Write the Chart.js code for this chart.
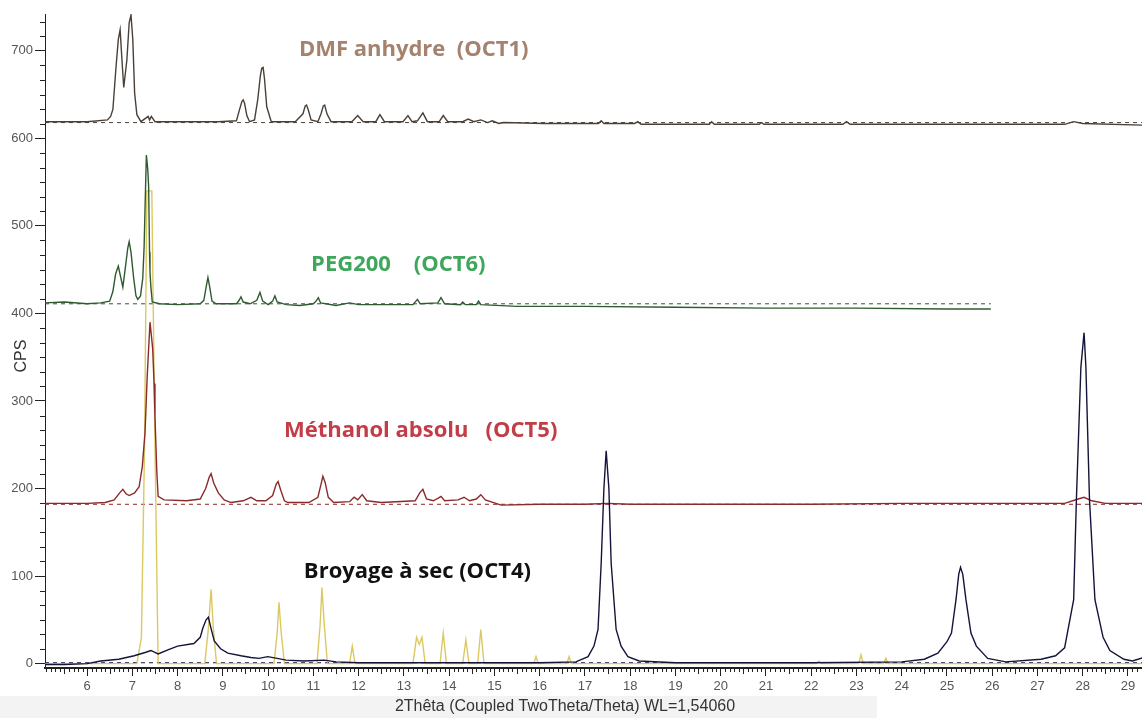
<!DOCTYPE html>
<html>
<head>
<meta charset="utf-8">
<script src="https://cdn.jsdelivr.net/npm/chart.js@4.4.1/dist/chart.umd.min.js"></script>
<style>
  html, body { margin: 0; padding: 0; background: #fff; }
  #wrap { width: 1142px; height: 718px; }
</style>
</head>
<body>
<div id="wrap"><canvas id="xrd" width="1142" height="718"></canvas></div>
<script>
// tick labels
const xTickLabels = [6, 7, 8, 9, 10, 11, 12, 13, 14, 15, 16, 17, 18, 19, 20, 21, 22, 23, 24, 25, 26, 27, 28, 29];
const yTickLabels = [0, 100, 200, 300, 400, 500, 600, 700];

// DMF anhydre (OCT1)
const dmfTheta = [5.07, 6.0, 6.45, 6.52, 6.57, 6.64, 6.69, 6.73, 6.77, 6.81, 6.88, 6.93, 6.97, 7.01, 7.05, 7.1, 7.19, 7.35, 7.38, 7.42, 7.5, 8.9,
  9.3, 9.37, 9.42, 9.45, 9.48, 9.53, 9.59, 9.7, 9.77, 9.83, 9.86, 9.89, 9.92, 9.97, 10.07, 10.6, 10.77, 10.82, 10.85, 10.89, 10.95, 11.1, 11.17,
  11.22, 11.25, 11.3, 11.39, 11.85, 11.98, 12.1, 12.38, 12.47, 12.57, 12.98, 13.09, 13.18, 13.3, 13.42, 13.52, 13.78, 13.87, 13.97, 14.3,
  14.42, 14.55, 14.7, 14.85, 14.95, 15.1, 15.2, 16.1, 17.3, 17.36, 17.42, 18.1, 18.17, 18.24, 19.75, 19.8, 19.86, 20.85, 20.9, 20.96,
  22.7, 22.78, 22.86, 27.6, 27.8, 28.0, 29.35];
const dmfCps = [619, 619, 621, 625, 633, 682, 713, 724, 690, 658, 690, 732, 741, 713, 652, 627, 619, 625, 621, 625, 619, 619,
  620, 633, 642, 644, 640, 626, 619, 621, 644, 672, 680, 681, 668, 636, 619, 619, 628, 637, 638, 632, 621, 619, 628,
  637, 638, 628, 619, 619, 626, 619, 619, 627, 619, 619, 626, 619, 620, 629, 619, 619, 626, 619, 619,
  622, 619, 621, 618, 620, 617, 618, 617, 617, 620, 617, 617, 619, 616, 616, 619, 616, 616, 618, 616,
  616, 619, 616, 616, 619, 617, 615];

// PEG200 (OCT6)
const pegTheta = [5.07, 5.5, 6.0, 6.3, 6.5, 6.57, 6.63, 6.69, 6.74, 6.79, 6.84, 6.9, 6.93, 6.97, 7.03, 7.08, 7.12, 7.18, 7.23, 7.26, 7.29,
  7.31, 7.34, 7.36, 7.38, 7.39, 7.41, 7.44, 7.6, 8.0, 8.5, 8.58, 8.63, 8.67, 8.71, 8.76, 8.85, 9.3, 9.36, 9.4, 9.45, 9.6, 9.75, 9.82, 9.88,
  10.0, 10.1, 10.15, 10.2, 10.4, 10.7, 11.0, 11.06, 11.11, 11.16, 11.5, 11.8, 12.0, 13.2, 13.3, 13.36, 13.75, 13.82, 13.9, 14.25, 14.3,
  14.36, 14.6, 14.65, 14.7, 15.5, 17.0, 19.0, 21.0, 23.0, 25.0, 25.97];
const pegCps = [412, 413, 411, 412, 414, 425, 445, 454, 442, 430, 450, 475, 482, 470, 440, 420, 416, 420, 440, 476, 540,
  581, 565, 545, 470, 447, 430, 413, 411, 410, 411, 415, 430, 441, 430, 414, 411, 411, 415, 419, 413, 411, 415, 424, 414,
  410, 414, 420, 413, 410, 409, 411, 414, 418, 412, 409, 412, 410, 410, 416, 411, 412, 418, 411, 410, 413,
  410, 410, 414, 410, 408, 408, 407, 406, 406, 405, 405];

// Méthanol absolu (OCT5)
const metTheta = [5.07, 6.0, 6.4, 6.6, 6.72, 6.79, 6.86, 6.93, 7.05, 7.15, 7.22, 7.28, 7.33, 7.39, 7.43, 7.45, 7.48, 7.5, 7.54, 7.57, 7.7,
  8.2, 8.5, 8.62, 8.7, 8.74, 8.8, 8.9, 9.03, 9.18, 9.45, 9.62, 9.75, 9.95, 10.1, 10.18, 10.22, 10.28, 10.36, 10.44, 10.9, 11.1, 11.17,
  11.21, 11.26, 11.33, 11.45, 11.8, 11.9, 11.98, 12.08, 12.18, 12.5, 13.25, 13.35, 13.42, 13.5, 13.65, 13.76, 13.82, 13.9, 14.2, 14.33,
  14.45, 14.6, 14.7, 14.8, 15.15, 16.0, 17.0, 17.5, 18.0, 20.0, 22.0, 24.0, 26.0, 27.6, 27.9, 28.03, 28.2, 28.5, 29.35];
const metCps = [183, 183, 184, 187, 195, 199, 194, 192, 195, 202, 225, 264, 330, 390, 370, 359, 320, 282, 220, 191, 187,
  186, 188, 200, 213, 217, 206, 195, 187, 184, 186, 190, 186, 186, 192, 205, 208, 198, 186, 184, 184, 190, 205,
  214, 207, 190, 184, 185, 190, 187, 193, 186, 184, 186, 195, 199, 188, 186, 189, 191, 186, 187, 190,
  186, 188, 193, 187, 181, 182, 182, 183, 182, 182, 182, 183, 183, 183, 188, 190, 186, 183, 183];

// Broyage à sec (OCT4)
const broTheta = [5.07, 5.5, 6.0, 6.3, 6.7, 7.04, 7.3, 7.41, 7.57, 7.8, 8.0, 8.36, 8.5, 8.56, 8.63, 8.68, 8.74, 8.81, 8.95, 9.11, 9.4,
  9.62, 9.8, 9.99, 10.2, 10.4, 10.8, 11.24, 11.5, 12.0, 14.0, 16.0, 16.8, 17.07, 17.2, 17.29, 17.36, 17.42, 17.47, 17.53, 17.58, 17.69,
  17.8, 17.95, 18.2, 19.0, 22.0, 24.0, 24.5, 24.8, 25.0, 25.1, 25.2, 25.26, 25.3, 25.35, 25.42, 25.53, 25.65, 25.9, 26.3, 27.08, 27.4,
  27.6, 27.8, 27.86, 27.96, 28.03, 28.07, 28.15, 28.27, 28.45, 28.6, 28.91, 29.1, 29.35];
const broCps = [-1, -1, 0, 3, 5, 9, 13, 15, 11, 16, 20, 23, 30, 41, 50, 53, 40, 26, 17, 12, 9,
  7, 6, 8, 6, 4, 3, 4, 2, 1, 1, 1, 2, 8, 20, 39, 115, 200, 243, 200, 115, 39,
  20, 8, 3, 1, 1, 2, 5, 12, 25, 35, 73, 102, 110, 102, 73, 35, 20, 6, 2, 5, 9,
  18, 73, 187, 339, 378, 339, 187, 73, 30, 15, 5, 3, 7];

// reference pattern (yellow sticks)
const refTheta = [5.07, 7.1, 7.2, 7.27, 7.32, 7.43, 7.5, 7.57, 8.6, 8.68, 8.74, 8.79, 8.86, 10.13, 10.2, 10.24, 10.29, 10.36, 11.08, 11.15,
  11.19, 11.24, 11.31, 11.8, 11.86, 11.92, 13.2, 13.28, 13.34, 13.4, 13.47, 13.8, 13.87, 13.94, 14.3, 14.37, 14.44, 14.63, 14.7, 14.77,
  15.87, 15.92, 15.97, 16.6, 16.65, 16.7, 22.12, 22.17, 22.22, 23.05, 23.1, 23.15, 23.6, 23.65, 23.7, 29.35];
const refCps = [0, 0, 30, 250, 540, 540, 250, 0, 0, 40, 85, 40, 0, 0, 35, 70, 35, 0, 0, 45,
  87, 45, 0, 0, 20, 0, 0, 30, 22, 30, 0, 0, 35, 0, 0, 27, 0, 0, 39, 0,
  0, 8, 0, 0, 8, 0, 0, 3, 0, 0, 10, 0, 0, 6, 0, 0];

// background levels (dashed)
const bgTheta = [5.07, 29.35];
const pegBgTheta = [5.07, 25.97];
const dmfBg = [618, 618];
const pegBg = [411, 411];
const metBg = [182, 182];
const broBg = [1, 1];

// sample names
const sampleNames = ['DMF anhydre  (OCT1)', 'PEG200    (OCT6)', 'Méthanol absolu   (OCT5)', 'Broyage à sec (OCT4)'];
const nameTheta = [10.68, 10.95, 10.35, 10.79];
const nameCps = [701, 456, 266, 105];
const nameColors = ['#a4826e', '#3ea75c', '#c23d47', '#111111'];

const toXY = (xs, ys) => xs.map((x, i) => ({ x: x, y: ys[i] }));

const lineSet = (label, xs, ys, color, order, extra) => Object.assign({
  label: label,
  data: toXY(xs, ys),
  borderColor: color,
  borderWidth: 1.4,
  pointRadius: 0,
  tension: 0,
  fill: false,
  order: order
}, extra || {});

const backdrop = {
  id: 'backdrop',
  beforeDraw(chart) {
    const c = chart.ctx;
    c.save();
    c.fillStyle = '#ffffff';
    c.fillRect(0, 0, chart.width, chart.height);
    c.fillStyle = '#f3f3f3';
    c.fillRect(0, 696, 877, chart.height - 696);
    c.restore();
  }
};

const minorTicks = {
  id: 'minorTicks',
  afterDraw(chart) {
    const c = chart.ctx;
    const xs = chart.scales.x, ys = chart.scales.y;
    const area = chart.chartArea;
    c.save();
    c.strokeStyle = '#222';
    c.lineWidth = 1;
    c.beginPath();
    for (let v = Math.ceil(xs.min * 10); v <= xs.max * 10; v++) {
      if (v % 10 === 0) continue;
      const px = Math.round(xs.getPixelForValue(v / 10)) + 0.5;
      c.moveTo(px, area.bottom);
      c.lineTo(px, area.bottom + (v % 5 === 0 ? 6 : 4));
    }
    for (let k = 0; k * 100 / 6 <= ys.max; k++) {
      if (k % 6 === 0) continue;
      const py = Math.round(ys.getPixelForValue(k * 100 / 6)) + 0.5;
      c.moveTo(area.left - 5, py);
      c.lineTo(area.left, py);
    }
    c.stroke();

    // sample names
    sampleNames.forEach((txt, i) => {
      c.font = 'bold 22px "Open Sans"';
      c.fillStyle = nameColors[i];
      c.textAlign = 'left';
      c.textBaseline = 'middle';
      c.fillText(txt, xs.getPixelForValue(nameTheta[i]), ys.getPixelForValue(nameCps[i]));
    });

    // axis titles
    c.fillStyle = '#333';
    c.font = '16px "Liberation Sans"';
    c.textAlign = 'center';
    c.textBaseline = 'middle';
    c.fillText('2Thêta (Coupled TwoTheta/Theta) WL=1,54060', 565, 707);
    c.translate(22, 356);
    c.rotate(-Math.PI / 2);
    c.fillText('CPS', 0, 0);
    c.restore();
  }
};

new Chart(document.getElementById('xrd'), {
  type: 'line',
  data: {
    datasets: [
      lineSet('Broyage à sec (OCT4)', broTheta, broCps, '#14143a', 1),
      lineSet('Méthanol absolu (OCT5)', metTheta, metCps, '#8a2a2a', 2),
      lineSet('PEG200 (OCT6)', pegTheta, pegCps, '#2f5a30', 3),
      lineSet('DMF anhydre (OCT1)', dmfTheta, dmfCps, '#4a4038', 4),
      lineSet('Référence', refTheta, refCps, 'rgba(214, 190, 70, 0.85)', 5),
      lineSet('fond OCT1', bgTheta, dmfBg, '#4a4038', 6, { borderDash: [4, 4], borderWidth: 1 }),
      lineSet('fond OCT6', pegBgTheta, pegBg, '#2f5a30', 6, { borderDash: [4, 4], borderWidth: 1 }),
      lineSet('fond OCT5', bgTheta, metBg, '#8a2a2a', 6, { borderDash: [4, 4], borderWidth: 1 }),
      lineSet('fond OCT4', bgTheta, broBg, '#14143a', 6, { borderDash: [4, 4], borderWidth: 1 })
    ]
  },
  options: {
    responsive: false,
    animation: false,
    layout: { padding: { top: 14, right: 0, left: 0, bottom: 0 } },
    plugins: { legend: { display: false }, tooltip: { enabled: false } },
    scales: {
      x: {
        type: 'linear',
        min: 5.07,
        max: 29.31,
        afterBuildTicks: s => { s.ticks = xTickLabels.map(v => ({ value: v })); },
        afterFit: s => { s.height = 50; },
        ticks: { color: '#555', font: { family: 'Liberation Sans', size: 13 }, padding: 3, maxRotation: 0, autoSkip: false },
        grid: { drawOnChartArea: false, drawTicks: true, tickLength: 8, tickColor: '#222' },
        border: { display: true, color: '#222', width: 2 }
      },
      y: {
        type: 'linear',
        min: -5,
        max: 742,
        afterBuildTicks: s => { s.ticks = yTickLabels.map(v => ({ value: v })); },
        afterFit: s => { s.width = 45; },
        ticks: { color: '#555', font: { family: 'Liberation Sans', size: 13 }, padding: 2 },
        grid: { drawOnChartArea: false, drawTicks: true, tickLength: 10, tickColor: '#222' },
        border: { display: true, color: '#222', width: 1 }
      }
    }
  },
  plugins: [backdrop, minorTicks]
});
</script>
</body>
</html>
